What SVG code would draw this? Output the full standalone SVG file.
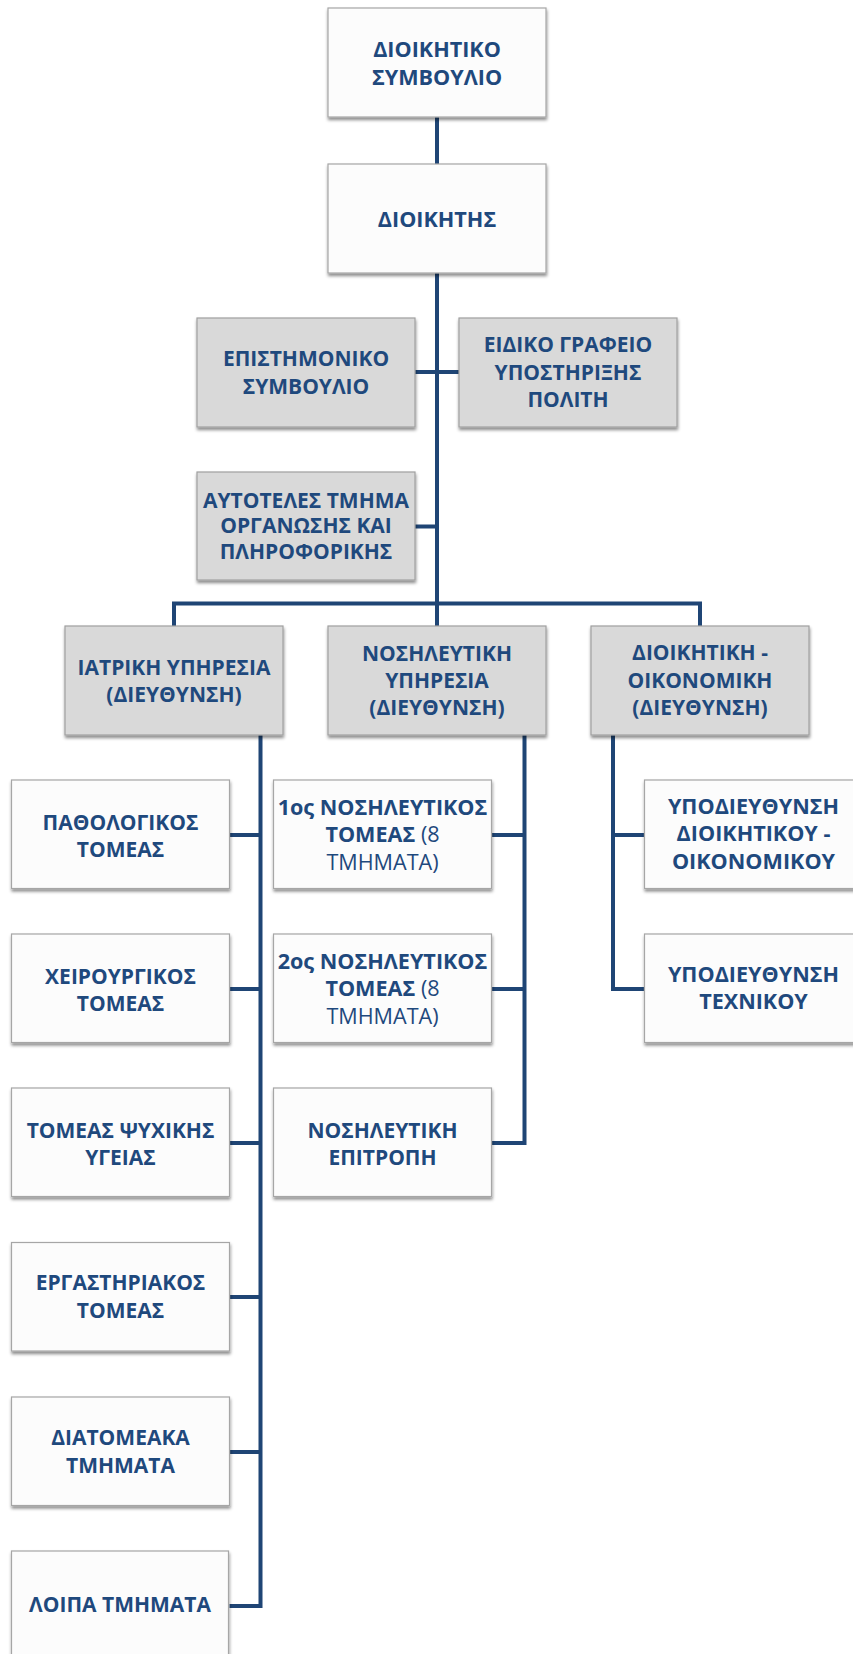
<svg xmlns="http://www.w3.org/2000/svg" width="853" height="1654" viewBox="0 0 853 1654">
<defs>
<filter id="sh" x="-10%" y="-10%" width="120%" height="130%">
<feDropShadow dx="0.5" dy="2.5" stdDeviation="1.6" flood-color="#000" flood-opacity="0.45"/>
</filter>
<style>
.bw{fill:#fcfcfc;stroke:#a6a6a6;stroke-width:1.2;filter:url(#sh)}
.bg{fill:#d9d9d9;stroke:#a0a0a0;stroke-width:1.2;filter:url(#sh)}
text{font-family:"Open Sans","Noto Sans","DejaVu Sans",sans-serif;font-weight:700;font-size:21px;fill:#1f497d;text-anchor:middle}
.r{font-weight:400}
.big{font-size:21.6px}
.c{fill:none;stroke:#1f4575;stroke-width:4;stroke-linejoin:miter;stroke-linecap:butt}
</style>
</defs>
<rect width="853" height="1654" fill="#ffffff"/>
<g id="connectors">
<line class="c" x1="437" y1="117" x2="437" y2="164"/>
<line class="c" x1="437" y1="273" x2="437" y2="626"/>
<line class="c" x1="415" y1="372" x2="459" y2="372"/>
<line class="c" x1="415" y1="526.5" x2="437" y2="526.5"/>
<polyline class="c" points="174,626 174,603.5 700,603.5 700,626"/>
<polyline class="c" points="229.5,1606 260.5,1606 260.5,735"/>
<line class="c" x1="229.5" y1="835" x2="260.5" y2="835"/>
<line class="c" x1="229.5" y1="989" x2="260.5" y2="989"/>
<line class="c" x1="229.5" y1="1143" x2="260.5" y2="1143"/>
<line class="c" x1="229.5" y1="1297" x2="260.5" y2="1297"/>
<line class="c" x1="229.5" y1="1452" x2="260.5" y2="1452"/>
<polyline class="c" points="491.5,1143 524.5,1143 524.5,735"/>
<line class="c" x1="491.5" y1="835" x2="524.5" y2="835"/>
<line class="c" x1="491.5" y1="989" x2="524.5" y2="989"/>
<polyline class="c" points="644.5,989 613,989 613,735"/>
<line class="c" x1="613" y1="835" x2="644.5" y2="835"/>
</g>
<g id="n-dioikitiko-symvoulio">
<rect class="bw" x="328" y="8" width="218" height="109"/>
<text class="big" x="437" y="57">ΔΙΟΙΚΗΤΙΚΟ</text>
<text class="big" x="437" y="84.5">ΣΥΜΒΟΥΛΙΟ</text>
</g>
<g id="n-dioikitis">
<rect class="bw" x="328" y="164" width="218" height="109"/>
<text class="big" x="437" y="226.5">ΔΙΟΙΚΗΤΗΣ</text>
</g>
<g id="n-epistimoniko">
<rect class="bg" x="197" y="318" width="218" height="109"/>
<text x="306" y="366">ΕΠΙΣΤΗΜΟΝΙΚΟ</text>
<text x="306" y="393.5">ΣΥΜΒΟΥΛΙΟ</text>
</g>
<g id="n-eidiko-grafeio">
<rect class="bg" x="459" y="318" width="218" height="109"/>
<text x="568" y="352">ΕΙΔΙΚΟ ΓΡΑΦΕΙΟ</text>
<text x="568" y="379.5">ΥΠΟΣΤΗΡΙΞΗΣ</text>
<text x="568" y="407">ΠΟΛΙΤΗ</text>
</g>
<g id="n-autoteles">
<rect class="bg" x="197" y="472" width="218" height="108"/>
<text x="306" y="507.5">ΑΥΤΟΤΕΛΕΣ ΤΜΗΜΑ</text>
<text x="306" y="533">ΟΡΓΑΝΩΣΗΣ ΚΑΙ</text>
<text x="306" y="559">ΠΛΗΡΟΦΟΡΙΚΗΣ</text>
</g>
<g id="n-iatriki">
<rect class="bg" x="65" y="626" width="218" height="109"/>
<text x="174" y="674.5">ΙΑΤΡΙΚΗ ΥΠΗΡΕΣΙΑ</text>
<text x="174" y="701.5">(ΔΙΕΥΘΥΝΣΗ)</text>
</g>
<g id="n-nosileftiki-ypiresia">
<rect class="bg" x="328" y="626" width="218" height="109"/>
<text x="437" y="661">ΝΟΣΗΛΕΥΤΙΚΗ</text>
<text x="437" y="688">ΥΠΗΡΕΣΙΑ</text>
<text x="437" y="715">(ΔΙΕΥΘΥΝΣΗ)</text>
</g>
<g id="n-dioikitiki-oikonomiki">
<rect class="bg" x="591" y="626" width="218" height="109"/>
<text x="700" y="660">ΔΙΟΙΚΗΤΙΚΗ -</text>
<text x="700" y="687.5">ΟΙΚΟΝΟΜΙΚΗ</text>
<text x="700" y="715">(ΔΙΕΥΘΥΝΣΗ)</text>
</g>
<g id="n-pathologikos">
<rect class="bw" x="11.5" y="780" width="218" height="108.5"/>
<text x="120.5" y="829.5">ΠΑΘΟΛΟΓΙΚΟΣ</text>
<text x="120.5" y="856.5">ΤΟΜΕΑΣ</text>
</g>
<g id="n-xeirourgikos">
<rect class="bw" x="11.5" y="934" width="218" height="108.5"/>
<text x="120.5" y="983.5">ΧΕΙΡΟΥΡΓΙΚΟΣ</text>
<text x="120.5" y="1010.5">ΤΟΜΕΑΣ</text>
</g>
<g id="n-psyxikis-ygeias">
<rect class="bw" x="11.5" y="1088" width="218" height="108.5"/>
<text x="120.5" y="1137.5">ΤΟΜΕΑΣ ΨΥΧΙΚΗΣ</text>
<text x="120.5" y="1164.5">ΥΓΕΙΑΣ</text>
</g>
<g id="n-ergastiriakos">
<rect class="bw" x="11.5" y="1242.5" width="218" height="108.5"/>
<text x="120.5" y="1290">ΕΡΓΑΣΤΗΡΙΑΚΟΣ</text>
<text x="120.5" y="1317.5">ΤΟΜΕΑΣ</text>
</g>
<g id="n-diatomeaka">
<rect class="bw" x="11.5" y="1397" width="218" height="108.5"/>
<text x="120.5" y="1445">ΔΙΑΤΟΜΕΑΚΑ</text>
<text x="120.5" y="1472.5">ΤΜΗΜΑΤΑ</text>
</g>
<g id="n-loipa">
<rect class="bw" x="11.5" y="1551" width="217" height="108.5"/>
<text x="120" y="1611.5">ΛΟΙΠΑ ΤΜΗΜΑΤΑ</text>
</g>
<g id="n-1os-tomeas">
<rect class="bw" x="273.5" y="780" width="218" height="108.5"/>
<text class="big" x="382.5" y="814.5">1ος ΝΟΣΗΛΕΥΤΙΚΟΣ</text>
<text class="big" x="382.5" y="842">ΤΟΜΕΑΣ <tspan class="r">(8</tspan></text>
<text class="big r" x="382.5" y="869.5">ΤΜΗΜΑΤΑ)</text>
</g>
<g id="n-2os-tomeas">
<rect class="bw" x="273.5" y="934" width="218" height="108.5"/>
<text class="big" x="382.5" y="968.5">2ος ΝΟΣΗΛΕΥΤΙΚΟΣ</text>
<text class="big" x="382.5" y="996">ΤΟΜΕΑΣ <tspan class="r">(8</tspan></text>
<text class="big r" x="382.5" y="1023.5">ΤΜΗΜΑΤΑ)</text>
</g>
<g id="n-nosileftiki-epitropi">
<rect class="bw" x="273.5" y="1088" width="218" height="108.5"/>
<text x="382.5" y="1137.5">ΝΟΣΗΛΕΥΤΙΚΗ</text>
<text x="382.5" y="1164.5">ΕΠΙΤΡΟΠΗ</text>
</g>
<g id="n-ypodieythynsi-dioikitikou">
<rect class="bw" x="644.5" y="780" width="218" height="108.5"/>
<text class="big" x="753.5" y="813.5">ΥΠΟΔΙΕΥΘΥΝΣΗ</text>
<text class="big" x="753.5" y="841">ΔΙΟΙΚΗΤΙΚΟΥ -</text>
<text class="big" x="753.5" y="868.5">ΟΙΚΟΝΟΜΙΚΟΥ</text>
</g>
<g id="n-ypodieythynsi-texnikou">
<rect class="bw" x="644.5" y="934" width="218" height="108.5"/>
<text class="big" x="753.5" y="981.5">ΥΠΟΔΙΕΥΘΥΝΣΗ</text>
<text class="big" x="753.5" y="1009">ΤΕΧΝΙΚΟΥ</text>
</g>
</svg>
